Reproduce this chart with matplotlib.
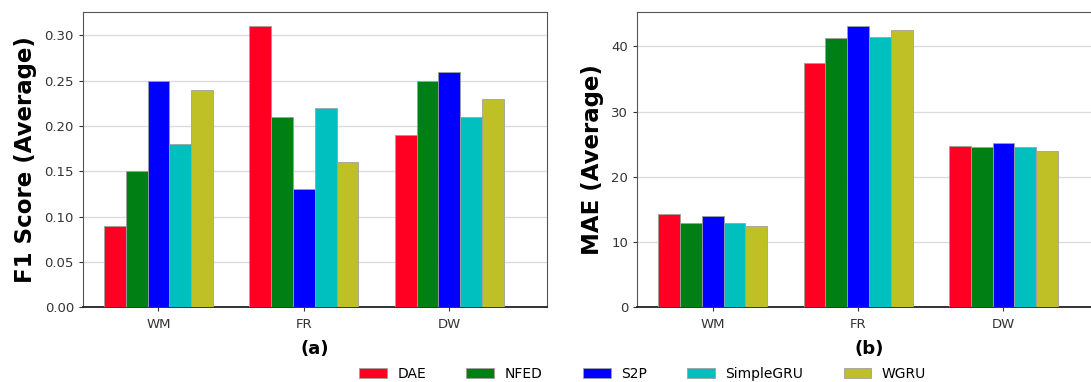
import numpy as np
import matplotlib
matplotlib.use("Agg")
import matplotlib.pyplot as plt
from matplotlib.patches import Patch

appliances = ["WM", "FR", "DW"]
models = ["DAE", "NFED", "S2P", "SimpleGRU", "WGRU"]
colors = ["#ff0022", "#007f14", "#0000ff", "#00bfbf", "#bfbf26"]

# rows = models, columns = appliances
f1 = {
    "DAE":       [0.09, 0.31, 0.19],
    "NFED":      [0.15, 0.21, 0.25],
    "S2P":       [0.25, 0.13, 0.26],
    "SimpleGRU": [0.18, 0.22, 0.21],
    "WGRU":      [0.24, 0.16, 0.23],
}
mae = {
    "DAE":       [14.3, 37.4, 24.8],
    "NFED":      [12.9, 41.3, 24.5],
    "S2P":       [14.0, 43.1, 25.2],
    "SimpleGRU": [12.9, 41.5, 24.5],
    "WGRU":      [12.4, 42.6, 23.9],
}

fig = plt.figure(figsize=(10.91, 3.82), dpi=100)
ax1 = fig.add_axes([0.076, 0.196, 0.425, 0.772])
ax2 = fig.add_axes([0.584, 0.196, 0.425, 0.772])

x = np.arange(len(appliances))
w = 0.15


def draw(ax, data, ylabel, tag):
    for i, (m, c) in enumerate(zip(models, colors)):
        ax.bar(x + (i - 2) * w, data[m], w, color=c, edgecolor="#a0a0a0", linewidth=0.6, zorder=3)
    ax.set_xticks(x)
    ax.set_xticklabels(appliances)
    ax.set_xlim(-0.52, 2.67)
    ax.yaxis.grid(True, color="#dcdcdc", linewidth=1.0, zorder=0)
    ax.set_axisbelow(True)
    ax.set_ylabel(ylabel, fontsize=16.5, fontweight="bold", labelpad=5)
    ax.set_xlabel(tag, fontsize=13, fontweight="bold", labelpad=6)
    ax.tick_params(labelsize=9.5, colors="#333333", length=3)
    ax.tick_params(axis="x", pad=5)
    for s in ax.spines.values():
        s.set_color("#555555")
    ax.spines["bottom"].set_color("#222222")
    ax.spines["bottom"].set_linewidth(1.3)


draw(ax1, f1, "F1 Score (Average)", "(a)")
ax1.set_yticks(np.arange(0, 0.31, 0.05))
ax1.set_yticklabels([f"{v:.2f}" for v in np.arange(0, 0.31, 0.05)])
draw(ax2, mae, "MAE (Average)", "(b)")
ax2.set_yticks([0, 10, 20, 30, 40])

handles = [Patch(facecolor=c, edgecolor="#a0a0a0", linewidth=0.6) for c in colors]
fig.legend(handles, models, loc="lower center", bbox_to_anchor=(0.589, -0.03), ncol=5,
           frameon=False, fontsize=10, handlelength=2.0, handleheight=0.7,
           columnspacing=2.9, handletextpad=0.75)

fig.savefig("out.png", dpi=100)
